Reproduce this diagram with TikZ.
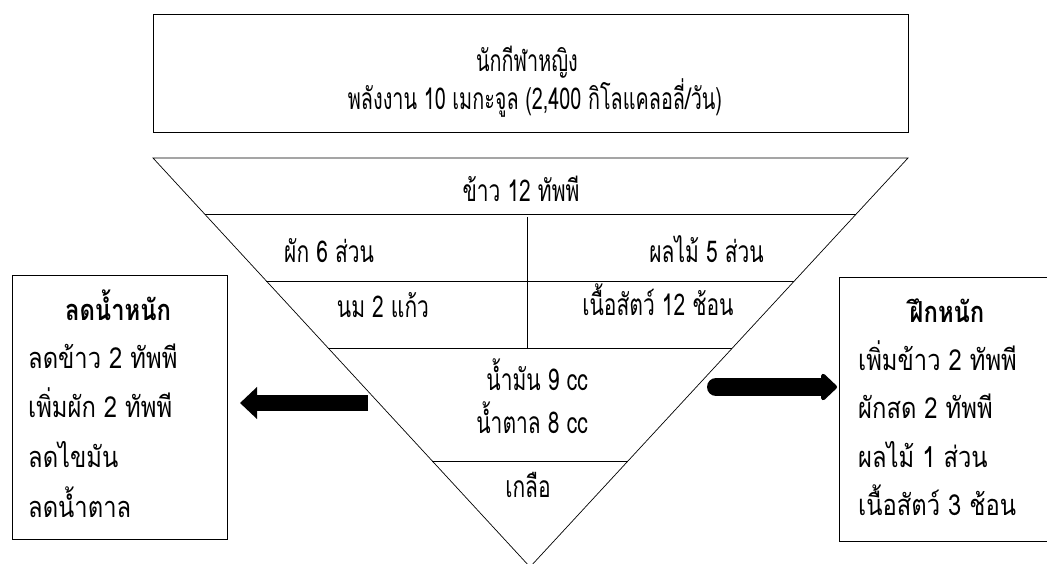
\documentclass[tikz,border=0pt]{standalone}
\usepackage{fontspec}
\usepackage{graphicx}
\newfontfamily\thai[Script=Thai]{Loma}
\newcommand\narrowthai[1]{\scalebox{0.70}[1]{\thai\fontsize{30}{34}\selectfont #1}}
\newcommand\topthai[1]{\scalebox{0.66}[1]{\thai\fontsize{30}{34}\selectfont #1}}
\newcommand\sidethai[1]{\scalebox{0.82}[1]{\thai\fontsize{29}{32}\selectfont #1}}
\newcommand\sidethaib[1]{\scalebox{0.82}[1]{\thai\bfseries\fontsize{29}{32}\selectfont #1}}
\usetikzlibrary{calc,arrows.meta}
\begin{document}
\begin{tikzpicture}[x=1pt,y=-1pt,
  box/.style={draw,line width=1pt,fill=white,inner sep=0pt},
  tri/.style={draw,line width=0.7pt},
  tlabel/.style={inner sep=0pt,anchor=base},
  slabel/.style={inner sep=0pt,anchor=base west},
  stitle/.style={inner sep=0pt,anchor=base},
  leftarrow/.style={line width=16pt,-{Triangle[length=17pt,width=31pt]}},
  rightarrow/.style={line width=18pt,line cap=round,-{Triangle[length=17pt,width=31pt,round]}}
]
\useasboundingbox (0,0) rectangle (1047,564);
% top box
\node[box,minimum width=755pt,minimum height=118pt] (top) at (530.5,74) {};
\node[tlabel] (t1) at (527,72) {\topthai{นักกีฬาหญิง}};
\node[tlabel] (t2) at (535,110) {\topthai{พลังงาน 10 เมกะจูล (2,400 กิโลแคลอลี่/วัน)}};
% triangle
\coordinate (TL) at (153,158);
\coordinate (TR) at (908,158);
\coordinate (AP) at (530,567);
\draw[tri] (TL) -- (TR) -- (AP) -- cycle;
\draw[tri] ($(TL)!0.1369!(AP)$) -- ($(TR)!0.1369!(AP)$);
\draw[tri] ($(TL)!0.3007!(AP)$) -- ($(TR)!0.3007!(AP)$);
\draw[tri] ($(TL)!0.4645!(AP)$) -- ($(TR)!0.4645!(AP)$);
\draw[tri] ($(TL)!0.7408!(AP)$) -- ($(TR)!0.7408!(AP)$);
\coordinate (D1) at (527,217);
\coordinate (D2) at (527,348);
\draw[tri] (D1) -- (D2);
% triangle labels
\node[tlabel] (rice) at (521,202) {\narrowthai{ข้าว 12 ทัพพี}};
\node[tlabel,anchor=base west] (veg) at (284,262) {\narrowthai{ผัก 6 ส่วน}};
\node[tlabel,anchor=base east] (fruit) at (764,262) {\narrowthai{ผลไม้ 5 ส่วน}};
\node[tlabel] (milk) at (383,317) {\narrowthai{นม 2 แก้ว}};
\node[tlabel] (meat) at (658,315) {\narrowthai{เนื้อสัตว์ 12 ช้อน}};
\node[tlabel] (oil) at (537,390) {\narrowthai{น้ำมัน 9 cc}};
\node[tlabel] (sugar) at (532,433) {\narrowthai{น้ำตาล 8 cc}};
\node[tlabel] (salt) at (528,497) {\narrowthai{เกลือ}};
% left box
\node[box,minimum width=215pt,minimum height=264pt] (lbox) at (119.5,407) {};
\node[stitle] (lt) at (118,320) {\sidethaib{ลดน้ำหนัก}};
\node[slabel] (l1) at (28,368) {\sidethai{ลดข้าว 2 ทัพพี}};
\node[slabel] (l2) at (28,417) {\sidethai{เพิ่มผัก 2 ทัพพี}};
\node[slabel] (l3) at (28,467) {\sidethai{ลดไขมัน}};
\node[slabel] (l4) at (28,517) {\sidethai{ลดน้ำตาล}};
% right box
\node[box,minimum width=210pt,minimum height=264pt] (rbox) at (944,409) {};
\node[stitle] (rt) at (947,322) {\sidethaib{ฝึกหนัก}};
\node[slabel] (r1) at (858,370) {\sidethai{เพิ่มข้าว 2 ทัพพี}};
\node[slabel] (r2) at (858,418) {\sidethai{ผักสด 2 ทัพพี}};
\node[slabel] (r3) at (858,467) {\sidethai{ผลไม้ 1 ส่วน}};
\node[slabel] (r4) at (858,515) {\sidethai{เนื้อสัตว์ 3 ช้อน}};
% arrows
\coordinate (las) at (368,403);
\coordinate (lae) at (240,403);
\draw[leftarrow] (las) -- (lae);
\coordinate (ras) at (716,387);
\coordinate (rae) at (837,387);
\draw[rightarrow] (ras) -- (rae);
\end{tikzpicture}
\end{document}
